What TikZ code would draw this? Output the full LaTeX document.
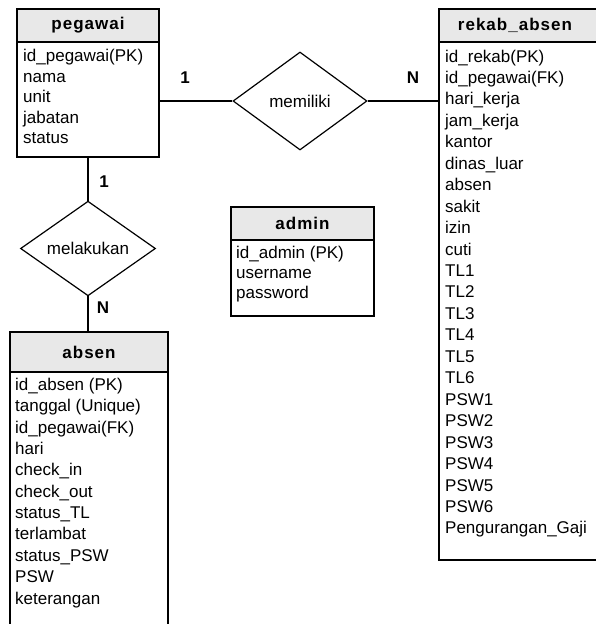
\documentclass[tikz,border=0pt]{standalone}
\usepackage{fontspec}
\setmainfont{Liberation Sans}
\newfontfamily\hdrfont[LetterSpace=6]{Liberation Sans}
\usetikzlibrary{shapes.geometric}
\definecolor{hdrgray}{HTML}{E8E8E8}
\begin{document}
\begin{tikzpicture}[x=1pt,y=-1pt,
  entity/.style={draw=black,line width=1.2pt,fill=white,rectangle,inner sep=0pt},
  hdr/.style={draw=black,line width=1.2pt,fill=hdrgray,rectangle,inner sep=0pt,anchor=north,
    font=\hdrfont\bfseries\fontsize{17}{20}\selectfont},
  attr/.style={anchor=base west,inner sep=0pt,font=\fontsize{17}{20}\selectfont},
  rel/.style={draw=black,line width=1.2pt,fill=white,diamond,inner sep=0pt,
    font=\fontsize{17}{20}\selectfont},
  conn/.style={line width=2.4pt},
  card/.style={inner sep=0pt,font=\bfseries\fontsize{17}{20}\selectfont}]
\clip (0,0) rectangle (596,624);
\fill[white] (0,0) rectangle (596,624);

% pegawai
\node[entity,minimum width=142pt,minimum height=148pt] (pegawai) at (88,83) {};
\node[hdr,minimum width=142pt,minimum height=33pt] (pegawaiH) at (pegawai.north) {pegawai};
\foreach \t [count=\i from 0] in {id\_pegawai(PK),nama,unit,jabatan,status}
  \node[attr] (pa\i) at (23,61.5+20.6*\i) {\t};

% rekab_absen
\node[entity,minimum width=170pt,minimum height=551pt] (rekab) at (524,284.5) {};
\node[hdr,minimum width=170pt,minimum height=33pt] (rekabH) at (rekab.north) {};
\node[inner sep=0pt,font=\hdrfont\bfseries\fontsize{17}{20}\selectfont] (rekabT) at (515,25.5) {rekab\_absen};
\foreach \t [count=\i from 0] in {id\_rekab(PK),id\_pegawai(FK),hari\_kerja,jam\_kerja,kantor,dinas\_luar,absen,sakit,izin,cuti,TL1,TL2,TL3,TL4,TL5,TL6,PSW1,PSW2,PSW3,PSW4,PSW5,PSW6,Pengurangan\_Gaji}
  \node[attr] (ra\i) at (445,62+21.45*\i) {\t};

% admin
\node[entity,minimum width=143pt,minimum height=109pt] (admin) at (302.5,261.5) {};
\node[hdr,minimum width=143pt,minimum height=33pt] (adminH) at (admin.north) {admin};
\foreach \t [count=\i from 0] in {id\_admin (PK),username,password}
  \node[attr] (aa\i) at (236,258.5+20*\i) {\t};

% absen
\node[entity,minimum width=158pt,minimum height=300pt] (absen) at (89,482) {};
\node[hdr,minimum width=158pt,minimum height=40pt] (absenH) at (absen.north) {absen};
\foreach \t [count=\i from 0] in {id\_absen (PK),tanggal (Unique),id\_pegawai(FK),hari,check\_in,check\_out,status\_TL,terlambat,status\_PSW,PSW,keterangan}
  \node[attr] (ba\i) at (15,390.5+21.35*\i) {\t};

% relationships
\node[rel,minimum width=134pt,minimum height=98pt] (memiliki) at (300,101) {memiliki};
\node[rel,minimum width=135pt,minimum height=79pt] (melakukan) at (88,248.5) {melakukan};

% connectors
\draw[conn] (pegawai.east |- memiliki.west) -- (memiliki.west);
\draw[conn] (memiliki.east) -- (memiliki.east -| rekab.west);
\draw[conn] (pegawai.south) -- (melakukan.north);
\draw[conn] (melakukan.south) -- (melakukan.south |- absenH.north);

% cardinalities
\node[card] (c1) at (185,78) {1};
\node[card] (c2) at (413,78) {N};
\node[card] (c3) at (104,182) {1};
\node[card] (c4) at (103,308) {N};
\end{tikzpicture}
\end{document}
